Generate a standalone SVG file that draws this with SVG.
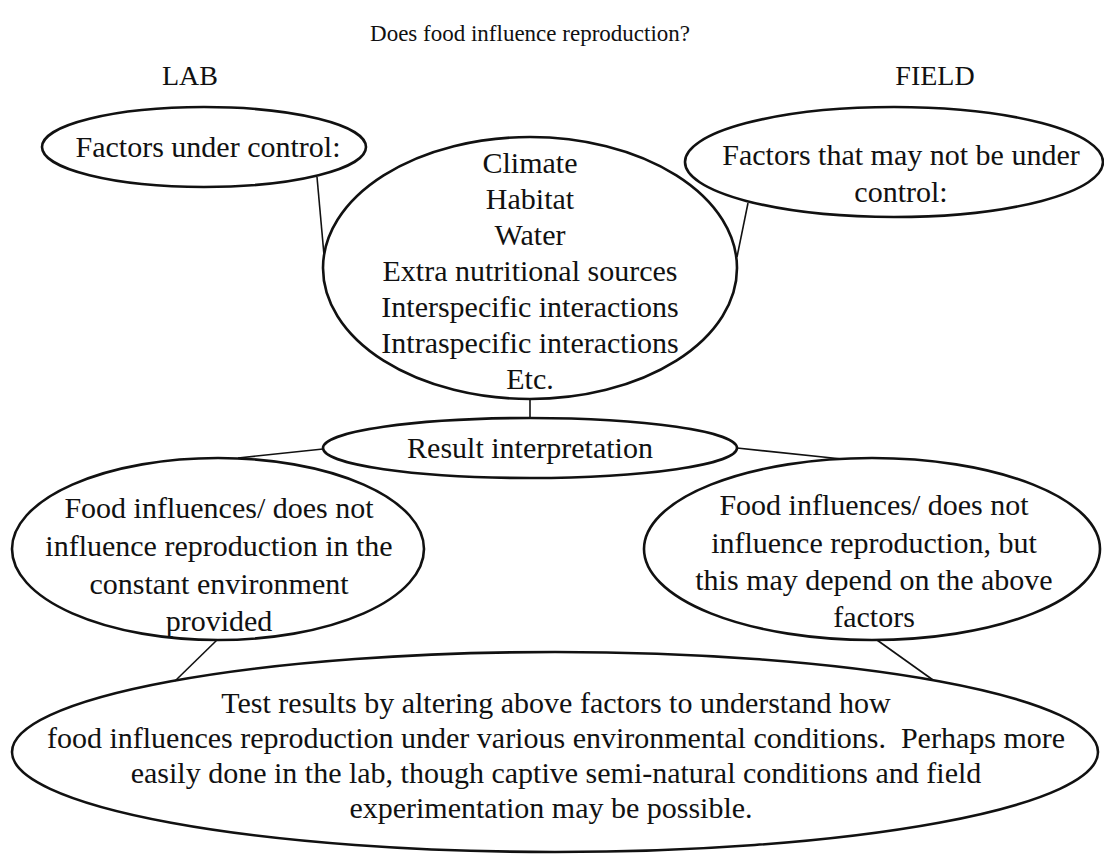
<svg xmlns="http://www.w3.org/2000/svg" width="1104" height="857" viewBox="0 0 1104 857">
<style>
.bg{fill:#fff}
.el{fill:none;stroke:#111;stroke-width:2.6}
.cn{fill:none;stroke:#111;stroke-width:1.6}
text{font-family:"Liberation Serif","Times New Roman",serif;fill:#111;text-anchor:middle}
.t{font-size:30px}
.h{font-size:23px}
.l{font-size:28px}
</style>
<rect class="bg" x="0" y="0" width="1104" height="857"/>
<text class="h" x="530" y="41">Does food influence reproduction?</text>
<text class="l" x="190" y="85">LAB</text>
<text class="l" x="935" y="85">FIELD</text>
<g id="connectors">
<line class="cn" x1="317" y1="177" x2="324" y2="255"/>
<line class="cn" x1="748" y1="203" x2="737" y2="257"/>
<line class="cn" x1="530" y1="399" x2="530" y2="418"/>
<line class="cn" x1="323" y1="449" x2="238" y2="458"/>
<line class="cn" x1="737" y1="448" x2="842" y2="459"/>
<line class="cn" x1="217" y1="640" x2="175" y2="681"/>
<line class="cn" x1="877" y1="640" x2="933" y2="680"/>
</g>
<g id="lab-factors">
<ellipse class="el" cx="204" cy="147" rx="162" ry="40"/>
<text class="t" x="208" y="157">Factors under control:</text>
</g>
<g id="field-factors">
<ellipse class="el" cx="894" cy="162" rx="209" ry="55"/>
<text class="t" x="901" y="165">Factors that may not be under</text>
<text class="t" x="901" y="202">control:</text>
</g>
<g id="factors">
<ellipse class="el" cx="530" cy="268" rx="207" ry="131"/>
<text class="t" x="530" y="173">Climate</text>
<text class="t" x="530" y="209">Habitat</text>
<text class="t" x="530" y="245">Water</text>
<text class="t" x="530" y="281">Extra nutritional sources</text>
<text class="t" x="530" y="317">Interspecific interactions</text>
<text class="t" x="530" y="353">Intraspecific interactions</text>
<text class="t" x="530" y="389">Etc.</text>
</g>
<g id="result">
<ellipse class="el" cx="530" cy="448" rx="207" ry="30"/>
<text class="t" x="530" y="458">Result interpretation</text>
</g>
<g id="lab-result">
<ellipse class="el" cx="218" cy="549" rx="206" ry="91"/>
<text class="t" x="219" y="518">Food influences/ does not</text>
<text class="t" x="219" y="556">influence reproduction in the</text>
<text class="t" x="219" y="594">constant environment</text>
<text class="t" x="219" y="631">provided</text>
</g>
<g id="field-result">
<ellipse class="el" cx="872" cy="549" rx="228" ry="91"/>
<text class="t" x="874" y="515">Food influences/ does not</text>
<text class="t" x="874" y="553">influence reproduction, but</text>
<text class="t" x="874" y="590">this may depend on the above</text>
<text class="t" x="874" y="627">factors</text>
</g>
<g id="test">
<ellipse class="el" cx="555" cy="752" rx="543" ry="100"/>
<text class="t" x="556" y="713">Test results by altering above factors to understand how</text>
<text class="t" x="556" y="748">food influences reproduction under various environmental conditions.&#160; Perhaps more</text>
<text class="t" x="556" y="783">easily done in the lab, though captive semi-natural conditions and field</text>
<text class="t" x="551" y="818">experimentation may be possible.</text>
</g>
</svg>
